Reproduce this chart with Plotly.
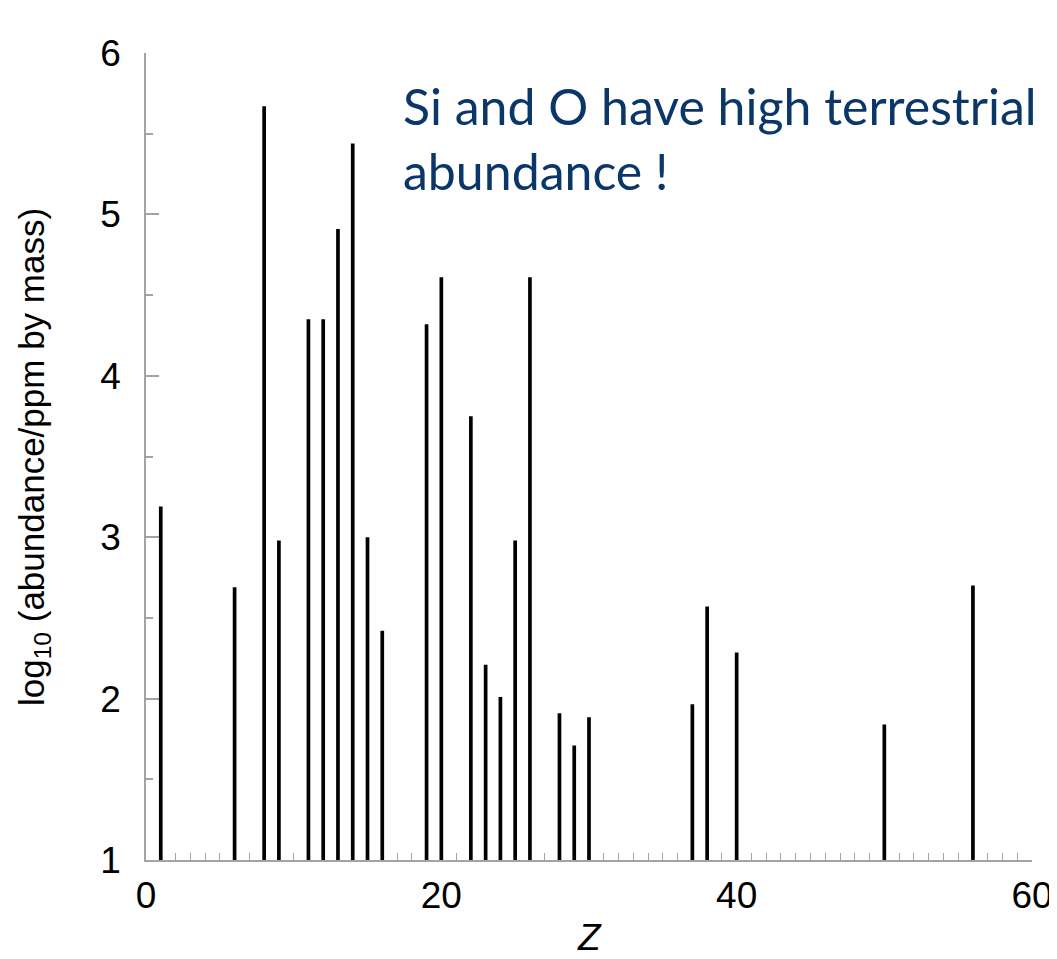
import plotly.graph_objects as go

# Atomic number Z and log10 abundance (ppm by mass)
elements = ["H", "C", "O", "F", "Na", "Mg", "Al", "Si", "P", "S", "K", "Ca", "Ti", "V",
            "Cr", "Mn", "Fe", "Ni", "Cu", "Zn", "Rb", "Sr", "Zr", "Sn", "Ba"]
z_values = [1, 6, 8, 9, 11, 12, 13, 14, 15, 16, 19, 20, 22, 23,
            24, 25, 26, 28, 29, 30, 37, 38, 40, 50, 56]
log_abundance = [3.19, 2.69, 5.67, 2.98, 4.35, 4.35, 4.91, 5.44, 3.00, 2.42, 4.32, 4.61, 3.75, 2.21,
                 2.01, 2.98, 4.61, 1.91, 1.71, 1.885, 1.965, 2.57, 2.285, 1.84, 2.70]

x_tickvals = [0, 20, 40, 60]
y_tickvals = [1, 2, 3, 4, 5, 6]

axis_color = "#a3a3a3"
font_family = "Liberation Sans, Arial, sans-serif"
tick_font = dict(family=font_family, size=37, color="black")

fig = go.Figure()
fig.add_trace(go.Bar(
    x=z_values, y=log_abundance, customdata=elements, width=0.25,
    marker=dict(color="black", line=dict(width=0)),
    hovertemplate="%{customdata} (Z=%{x}): %{y}<extra></extra>",
))

fig.update_layout(
    width=1049, height=951,
    margin=dict(l=138, r=25, t=45, b=99),
    plot_bgcolor="white", paper_bgcolor="white",
    showlegend=False,
    xaxis=dict(
        range=[0, 60], tickvals=x_tickvals, ticks="inside", ticklen=13, tickwidth=1.5,
        tickcolor=axis_color, showline=True, linecolor=axis_color, linewidth=1.5,
        showgrid=False, zeroline=False, tickfont=tick_font, automargin=False,
        ticklabelstandoff=2, layer="below traces",
        minor=dict(ticks="inside", ticklen=7, dtick=1, tickcolor=axis_color, tickwidth=1, showgrid=False),
    ),
    yaxis=dict(
        range=[1, 6], tickvals=y_tickvals, ticks="inside", ticklen=13, tickwidth=1.5,
        tickcolor=axis_color, showline=True, linecolor=axis_color, linewidth=1.5,
        showgrid=False, zeroline=False, tickfont=tick_font, automargin=False,
        ticklabelstandoff=16, layer="below traces",
        minor=dict(ticks="inside", ticklen=7, dtick=0.5, tickcolor=axis_color, tickwidth=1.5, showgrid=False),
    ),
    annotations=[
        dict(
            x=17.25, y=5.87, xref="x", yref="y", xanchor="left", yanchor="top",
            text="Si and O have high terrestrial<br>abundance !", align="left", showarrow=False,
            font=dict(family="Lato, sans-serif", size=50, color="#0b3668"),
        ),
        dict(
            x=-0.127, y=0.5, xref="paper", yref="paper", xanchor="center", yanchor="middle",
            text="log<sub>10</sub> (abundance/ppm by mass)", textangle=-90, showarrow=False,
            font=dict(family=font_family, size=35, color="black"),
        ),
        dict(
            x=0.5, y=-0.0955, xref="paper", yref="paper", xanchor="center", yanchor="middle",
            text="<i>Z</i>", showarrow=False,
            font=dict(family=font_family, size=37, color="black"),
        ),
    ],
)

fig.write_html("out.html")
